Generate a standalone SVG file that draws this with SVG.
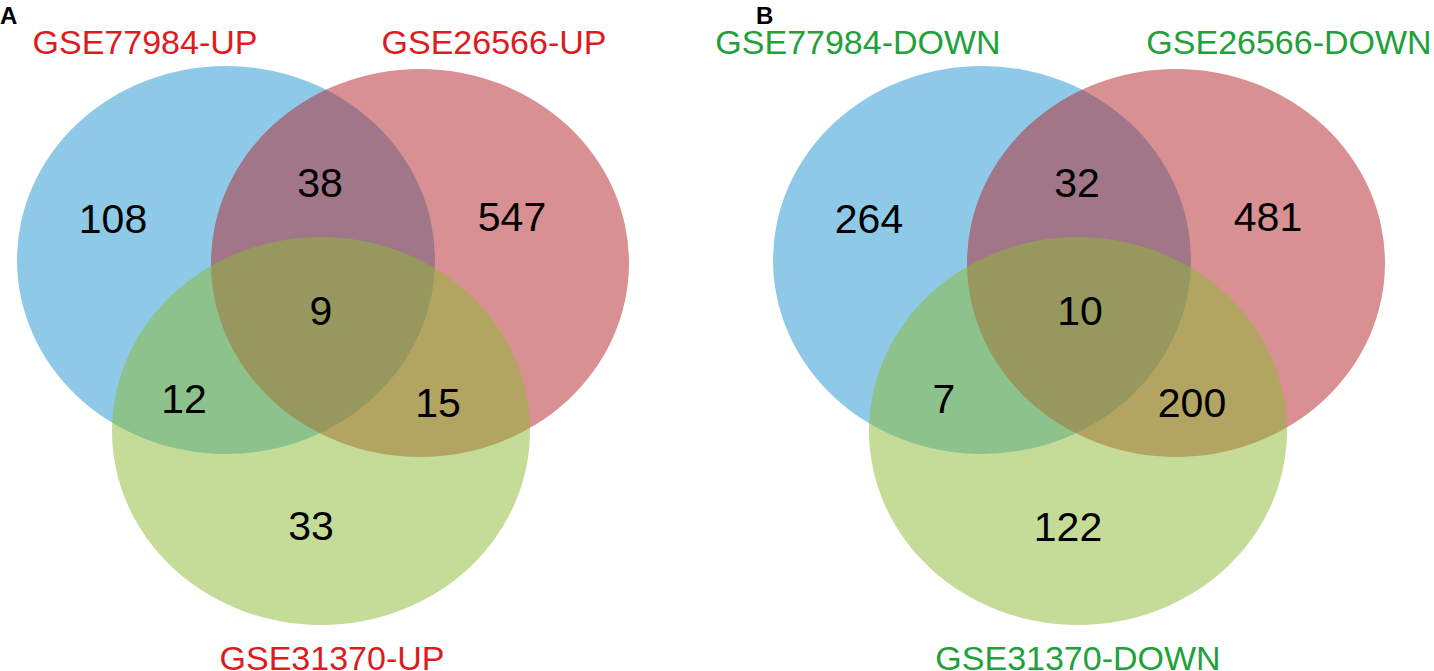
<svg xmlns="http://www.w3.org/2000/svg" width="1434" height="671" viewBox="0 0 1434 671">
<style>
.set{opacity:0.5}
.blue{fill:rgb(29,149,209)}
.red{fill:rgb(179,33,39)}
.green{fill:rgb(139,185,49)}
text{font-family:"Liberation Sans",Arial,sans-serif}
.num{font-size:41px;fill:#000;text-anchor:middle}
.lab{font-size:34px;text-anchor:middle}
.up{fill:#dc1c21}
.down{fill:#22a03a}
.pan{font-size:24px;font-weight:bold;fill:#000}
</style>
<rect width="1434" height="671" fill="#fff"/>
<g id="panelA">
<text class="pan" x="0" y="24">A</text>
<g id="A-set1"><ellipse class="set blue" cx="226" cy="260" rx="209" ry="194"/><text class="lab up" x="145" y="54">GSE77984-UP</text></g>
<g id="A-set2"><ellipse class="set red" cx="420" cy="263" rx="209" ry="194"/><text class="lab up" x="494" y="54">GSE26566-UP</text></g>
<g id="A-set3"><ellipse class="set green" cx="321" cy="431" rx="209" ry="194"/><text class="lab up" x="332" y="670">GSE31370-UP</text></g>
<g id="A-counts">
<text class="num" x="113" y="233">108</text>
<text class="num" x="320" y="197">38</text>
<text class="num" x="512" y="231">547</text>
<text class="num" x="321" y="325">9</text>
<text class="num" x="184" y="413">12</text>
<text class="num" x="438" y="417">15</text>
<text class="num" x="311" y="540">33</text>
</g>
</g>
<g id="panelB">
<text class="pan" x="756" y="24">B</text>
<g id="B-set1"><ellipse class="set blue" cx="982" cy="260" rx="209" ry="194"/><text class="lab down" x="858" y="54">GSE77984-DOWN</text></g>
<g id="B-set2"><ellipse class="set red" cx="1176" cy="263" rx="209" ry="194"/><text class="lab down" x="1289" y="54">GSE26566-DOWN</text></g>
<g id="B-set3"><ellipse class="set green" cx="1078" cy="431" rx="209" ry="194"/><text class="lab down" x="1078" y="670">GSE31370-DOWN</text></g>
<g id="B-counts">
<text class="num" x="869" y="233">264</text>
<text class="num" x="1077" y="197">32</text>
<text class="num" x="1268" y="231">481</text>
<text class="num" x="1080" y="325">10</text>
<text class="num" x="944" y="413">7</text>
<text class="num" x="1192" y="417">200</text>
<text class="num" x="1068" y="541">122</text>
</g>
</g>
<g id="connectors"/>
</svg>
